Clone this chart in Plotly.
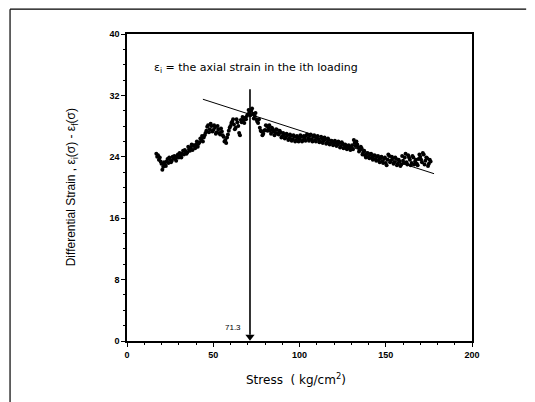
import plotly.graph_objects as go

# ---- data ----
stress = list(range(17, 177))
strain = [24.4, 24.2, 23.9, 23.1, 22.7, 23.0, 23.4, 23.2, 23.6, 23.5,
          23.8, 23.7, 24.0, 23.9, 24.2, 24.4, 24.3, 24.7, 24.6, 25.0,
          25.2, 24.9, 25.4, 25.6, 25.3, 25.9, 26.3, 26.0, 26.8, 27.4,
          28.1, 27.6, 28.0, 27.5, 27.8, 27.2, 27.6, 26.9, 27.3, 26.6,
          26.2, 26.5, 27.4, 28.0, 28.6, 28.2, 27.8, 28.5, 27.1, 28.8,
          29.2, 28.4, 28.9, 29.5, 29.8, 30.0, 29.6, 29.3, 28.9, 28.4,
          27.8, 27.3, 27.0, 27.5, 28.0, 27.7, 27.4, 27.8, 27.3, 27.1,
          27.5, 26.9, 27.2, 26.7, 26.9, 26.5, 26.8, 26.4, 26.7, 26.3,
          26.6, 26.2, 26.5, 26.3, 26.6, 26.2, 26.5, 26.8, 26.4, 26.7,
          26.3, 26.6, 26.2, 26.5, 26.3, 26.0, 26.4, 26.1, 26.3, 25.9,
          26.2, 25.8, 26.0, 25.7, 25.9, 25.6, 25.8, 25.4, 25.7, 25.5,
          25.2, 25.4, 25.1, 25.3, 25.0, 25.8, 26.0, 25.2, 24.9, 25.1,
          24.6, 24.2, 24.4, 24.0, 24.3, 23.9, 24.1, 23.7, 24.0, 23.6,
          23.8, 23.4, 23.7, 23.2, 23.6, 24.1, 23.5, 23.8, 23.3, 23.7,
          23.1, 23.4, 23.0, 23.5, 23.9, 23.3, 24.2, 23.6, 23.2, 23.9,
          23.4, 23.1, 23.7, 24.0, 23.3, 24.3, 23.5, 23.8, 23.1, 23.4]

stress_b = [s + 0.5 for s in range(17, 176)]
strain_b = [24.0, 23.6, 23.4, 22.3, 23.3, 22.8, 23.7, 23.9, 23.3, 24.0,
            24.1, 23.5, 24.3, 24.5, 23.9, 24.8, 24.9, 24.4, 25.3, 24.8,
            25.6, 25.5, 25.1, 26.0, 25.7, 26.4, 26.7, 26.5, 27.1, 27.9,
            27.2, 28.3, 27.3, 28.1, 27.0, 28.0, 27.1, 27.7, 26.8, 26.0,
            25.8, 26.9, 27.8, 28.4, 28.9, 27.6, 28.9, 28.0, 26.8, 28.5,
            28.8, 29.1, 29.3, 30.1, 29.4, 30.3, 29.0, 29.7, 28.6, 28.9,
            27.4, 26.8, 27.4, 28.1, 27.4, 28.1, 27.0, 27.6, 26.8, 27.6,
            27.0, 27.4, 26.5, 27.1, 26.4, 27.0, 26.2, 26.9, 26.1, 26.8,
            26.0, 26.7, 26.0, 26.8, 26.0, 26.7, 26.1, 26.9, 26.1, 26.9,
            26.0, 26.8, 26.0, 26.7, 25.9, 26.6, 25.8, 26.5, 25.7, 26.4,
            25.6, 26.1, 25.5, 26.1, 25.4, 26.0, 25.2, 25.9, 25.1, 25.6,
            25.0, 25.5, 24.9, 25.5, 26.2, 25.4, 25.6, 24.7, 25.3, 24.3,
            24.8, 23.9, 24.5, 23.8, 24.4, 23.6, 24.2, 23.5, 24.1, 23.3,
            24.0, 23.2, 23.9, 22.9, 24.3, 23.3, 24.0, 23.1, 23.9, 22.9,
            23.6, 22.8, 24.1, 23.2, 24.4, 23.0, 23.9, 22.9, 24.1, 23.0,
            23.6, 22.9, 24.3, 23.6, 24.5, 23.0, 23.9, 22.8, 23.6]

trend_x = [44, 178]
trend_y = [31.5, 21.8]

yield_stress = 71.3
arrow_top = 32.8

x_ticks = [0, 50, 100, 150, 200]
y_ticks = [0, 8, 16, 24, 32, 40]

FONT = "Liberation Sans, Arial, sans-serif"
WIDE = "DejaVu Sans, Verdana, sans-serif"

fig = go.Figure()
for xs, ys in ((stress, strain), (stress_b, strain_b)):
    fig.add_trace(go.Scatter(x=xs, y=ys, mode="markers",
                             marker=dict(color="black", size=4, symbol="circle"),
                             showlegend=False))
fig.add_trace(go.Scatter(x=trend_x, y=trend_y, mode="lines",
                         line=dict(color="black", width=1), showlegend=False))

# vertical arrow at the yield stress (shaft + head)
fig.add_trace(go.Scatter(x=[yield_stress, yield_stress], y=[arrow_top, 0.8],
                         mode="lines", line=dict(color="black", width=1.6),
                         showlegend=False))
fig.add_trace(go.Scatter(x=[yield_stress], y=[0.55], mode="markers",
                         marker=dict(symbol="triangle-down", size=8, color="black"),
                         showlegend=False))

fig.add_annotation(x=61.4, y=1.7, xref="x", yref="y", text=str(yield_stress),
                   showarrow=False, font=dict(family=FONT, size=8, color="black"))

fig.add_annotation(x=14.3, y=35.6, xref="x", yref="y", xanchor="left",
                   text="ε<sub>i</sub> = the axial strain in the ith loading",
                   showarrow=False, font=dict(family=WIDE, size=11, color="black"))

# axis titles
fig.add_annotation(x=-0.16, y=0.5, xref="paper", yref="paper", textangle=-90,
                   xanchor="center", yanchor="middle",
                   text="Differential Strain , ε<sub>i</sub>(σ) - ε<sub>f</sub>(σ)",
                   showarrow=False, font=dict(family=FONT, size=12, color="black"))
fig.add_annotation(x=0.49, y=-0.124, xref="paper", yref="paper",
                   xanchor="center", yanchor="middle",
                   text="Stress  ( kg/cm<sup>2</sup>)",
                   showarrow=False, font=dict(family=WIDE, size=12, color="black"))

# outer frame (top and left edges)
fig.add_shape(type="line", xref="paper", yref="paper", x0=-0.339, y0=1.081,
              x1=1.157, y1=1.081, line=dict(color="black", width=1.2))
fig.add_shape(type="line", xref="paper", yref="paper", x0=-0.339, y0=1.081,
              x1=-0.339, y1=-0.2, line=dict(color="black", width=1.2))

axis_common = dict(showgrid=False, zeroline=False, showline=True, mirror=True,
                   linecolor="black", linewidth=1.5, ticks="outside", ticklen=4,
                   tickcolor="black", tickwidth=1.2,
                   tickfont=dict(family=FONT, size=9, color="black", weight="bold"),
                   minor=dict(ticks="outside", ticklen=2, tickcolor="black"))

fig.update_xaxes(range=[0, 200], tickvals=x_ticks, **axis_common)
fig.update_yaxes(range=[0, 40], tickvals=y_ticks, **axis_common)

fig.update_layout(width=535, height=402,
                  margin=dict(l=127, r=63, t=34, b=61),
                  paper_bgcolor="white", plot_bgcolor="white",
                  font=dict(family=FONT, color="black"))

fig.write_html("out.html")
